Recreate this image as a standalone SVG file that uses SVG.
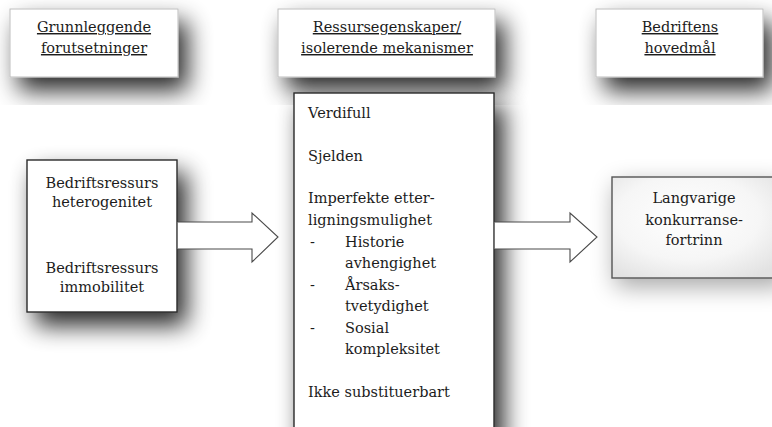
<svg xmlns="http://www.w3.org/2000/svg" width="772" height="427" viewBox="0 0 772 427">
  <defs>
    <filter id="shadow" x="-40%" y="-40%" width="180%" height="180%">
      <feGaussianBlur in="SourceAlpha" stdDeviation="12"/>
      <feOffset dx="9" dy="13"/>
      <feComponentTransfer>
        <feFuncA type="linear" slope="0.85"/>
      </feComponentTransfer>
      <feMerge>
        <feMergeNode/>
        <feMergeNode in="SourceGraphic"/>
      </feMerge>
    </filter>
    <filter id="shadow-soft" x="-40%" y="-40%" width="180%" height="180%">
      <feGaussianBlur in="SourceAlpha" stdDeviation="12"/>
      <feOffset dx="4" dy="8"/>
      <feComponentTransfer>
        <feFuncA type="linear" slope="0.35"/>
      </feComponentTransfer>
      <feMerge>
        <feMergeNode/>
        <feMergeNode in="SourceGraphic"/>
      </feMerge>
    </filter>
    <radialGradient id="goal-fill" cx="45%" cy="40%" r="70%">
      <stop offset="0" stop-color="#ffffff"/>
      <stop offset="0.6" stop-color="#f6f6f6"/>
      <stop offset="1" stop-color="#e2e2e2"/>
    </radialGradient>
  </defs>
  <style>
    .t { font-family: 'DejaVu Serif', serif; font-size: 14.5px; fill: #1c1c1c; letter-spacing: 0px; }
    .c { text-anchor: middle; }
    .head { text-decoration: underline; }
    .label-box { fill: #ffffff; stroke: #bdbdbd; stroke-width: 1; filter: url(#shadow); }
    .node-box { fill: #ffffff; stroke: #2a2a2a; stroke-width: 1.4; filter: url(#shadow); }
    .goal-box { fill: url(#goal-fill); stroke: #555555; stroke-width: 1.4; filter: url(#shadow-soft); }
    .block-arrow { fill: #ffffff; stroke: #4a4a4a; stroke-width: 1.1; stroke-linejoin: miter; }
  </style>

  <rect width="772" height="427" fill="#ffffff"/>

  <!-- column headings -->
  <g id="heading-forutsetninger">
    <rect class="label-box" x="10" y="9" width="168" height="68"/>
    <text class="t c head" x="94" y="32">Grunnleggende</text>
    <text class="t c head" x="94" y="53">forutsetninger</text>
  </g>
  <g id="heading-mekanismer">
    <rect class="label-box" x="278" y="9" width="217" height="68"/>
    <text class="t c head" x="387" y="32">Ressursegenskaper/</text>
    <text class="t c head" x="387" y="53">isolerende mekanismer</text>
  </g>
  <g id="heading-hovedmal">
    <rect class="label-box" x="596" y="9" width="167" height="68"/>
    <text class="t c head" x="680" y="32">Bedriftens</text>
    <text class="t c head" x="680" y="53">hovedmål</text>
  </g>

  <!-- resource assumptions -->
  <g id="node-ressurser">
    <rect class="node-box" x="27" y="160" width="150" height="152"/>
    <text class="t c" x="102" y="188">Bedriftsressurs</text>
    <text class="t c" x="102" y="207">heterogenitet</text>
    <text class="t c" x="102" y="273">Bedriftsressurs</text>
    <text class="t c" x="102" y="292">immobilitet</text>
  </g>

  <!-- resource properties -->
  <g id="node-egenskaper">
    <rect class="node-box" x="294" y="93" width="200" height="345"/>
    <text class="t" x="308" y="118">Verdifull</text>
    <text class="t" x="308" y="161">Sjelden</text>
    <text class="t" x="308" y="203">Imperfekte etter-</text>
    <text class="t" x="308" y="225">ligningsmulighet</text>
    <text class="t" x="310" y="247">-</text>
    <text class="t" x="345" y="247">Historie</text>
    <text class="t" x="345" y="268">avhengighet</text>
    <text class="t" x="310" y="290">-</text>
    <text class="t" x="345" y="290">Årsaks-</text>
    <text class="t" x="345" y="311">tvetydighet</text>
    <text class="t" x="310" y="333">-</text>
    <text class="t" x="345" y="333">Sosial</text>
    <text class="t" x="345" y="354">kompleksitet</text>
    <text class="t" x="308" y="397">Ikke substituerbart</text>
  </g>

  <!-- main goal -->
  <g id="node-fortrinn">
    <rect class="goal-box" x="612" y="177" width="170" height="101"/>
    <text class="t c" x="694" y="203">Langvarige</text>
    <text class="t c" x="694" y="225">konkurranse-</text>
    <text class="t c" x="694" y="245">fortrinn</text>
  </g>

  <!-- block arrows between the columns -->
  <g id="connectors">
    <path class="block-arrow" d="M177.7,222 H252 V213 L278,237 L252,262 V249 H177.7"/>
    <path class="block-arrow" d="M494.7,222 H570 V213 L597,237 L570,262 V249 H494.7"/>
  </g>
</svg>
